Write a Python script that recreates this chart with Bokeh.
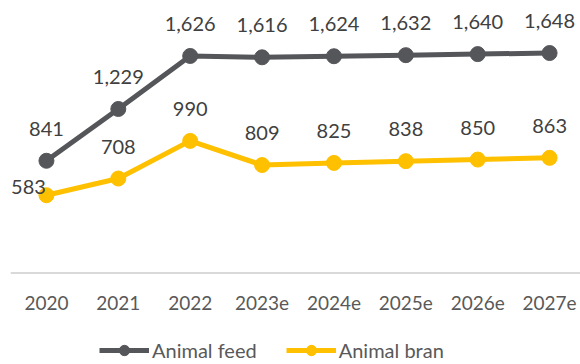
from bokeh.plotting import figure
from bokeh.models import ColumnDataSource, Legend, LegendItem, Range1d, Span
from bokeh.core.properties import value
from bokeh.embed import file_html
from bokeh.resources import INLINE

years = ["2020", "2021", "2022", "2023e", "2024e", "2025e", "2026e", "2027e"]
animal_feed = [841, 1229, 1626, 1616, 1624, 1632, 1640, 1648]
animal_bran = [583, 708, 990, 809, 825, 838, 850, 863]

GRAY = "#55565a"
YELLOW = "#ffc000"
FONT = "Lato"

xs = list(range(len(years)))

p = figure(width=580, height=364, output_backend="svg", toolbar_location=None,
           x_range=Range1d(-0.5, 7.43), y_range=Range1d(-685, 2004),
           min_border_left=10, min_border_right=0, min_border_top=5,
           min_border_bottom=0)
p.outline_line_color = None
p.background_fill_color = "white"
p.border_fill_color = "white"
p.grid.visible = False
p.axis.visible = False

# baseline (category axis line at zero)
p.add_layout(Span(location=0, dimension="width", line_color="#d9d9d9", line_width=2))

# category tick labels
tsrc = ColumnDataSource(dict(x=xs, y=[0] * len(xs), t=years))
p.text("x", "y", text="t", source=tsrc, y_offset=30,
       text_font=value(FONT), text_font_size="19px", text_color="#595959",
       text_align="center", text_baseline="middle")

renderers = {}
for name, vals, col in [("Animal feed", animal_feed, GRAY), ("Animal bran", animal_bran, YELLOW)]:
    src = ColumnDataSource(dict(x=xs, y=vals))
    l = p.line("x", "y", source=src, line_color=col, line_width=5)
    s = p.scatter("x", "y", source=src, size=15, fill_color=col, line_color=col)
    renderers[name] = [l, s]

    labels = [f"{v:,}" for v in vals]
    xo = [0] * len(vals)
    yo = [-32] * len(vals)
    if name == "Animal bran":
        xo[0] = -18
        yo[0] = -8
    lsrc = ColumnDataSource(dict(x=xs, y=vals, t=labels, xo=xo, yo=yo))
    p.text("x", "y", text="t", source=lsrc, x_offset="xo", y_offset="yo",
           text_font=value(FONT), text_font_size="20px", text_color="#404040",
           text_align="center", text_baseline="middle")

legend = Legend(items=[LegendItem(label=k, renderers=v) for k, v in renderers.items()],
                orientation="horizontal", location=(89, 1),
                glyph_width=50, glyph_height=26, label_standoff=3, spacing=29,
                label_text_font=FONT, label_text_font_size="20px",
                label_text_color="#595959", border_line_color=None,
                background_fill_alpha=0, padding=0, margin=0)
p.add_layout(legend, "center")

open("out.html", "w").write(file_html(p, INLINE))
